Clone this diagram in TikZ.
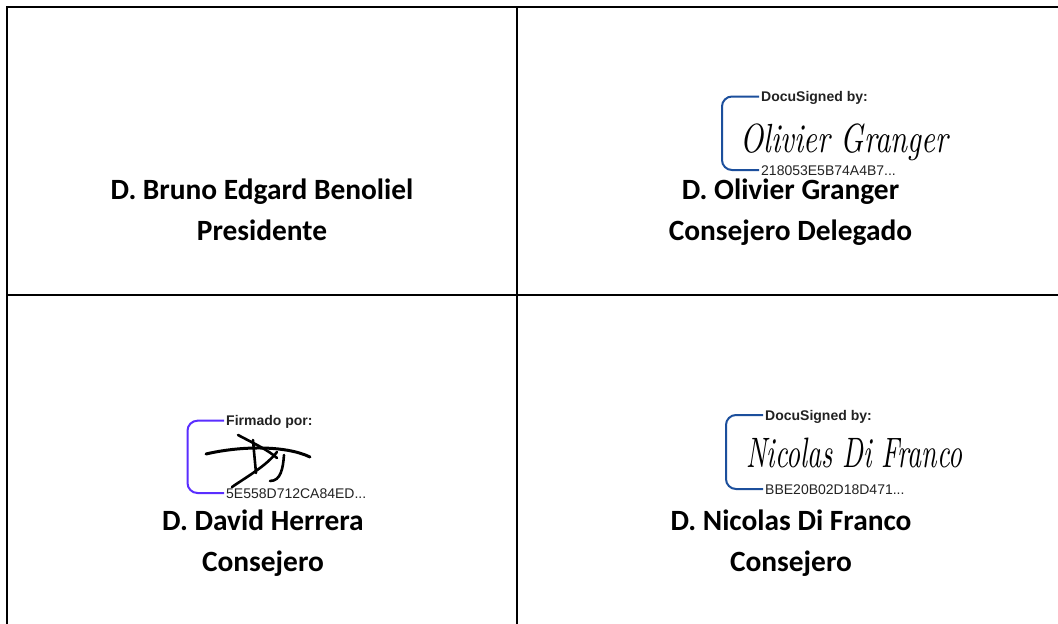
\documentclass[tikz,border=0pt]{standalone}
\usepackage{fontspec}
\setmainfont{Carlito}
\newfontfamily\arialfont{Liberation Sans}
\newcommand{\sigfont}{\fontfamily{lmr}\fontseries{m}\fontshape{it}\selectfont}
\definecolor{dsblue}{HTML}{1C4F9C}
\definecolor{fmviolet}{HTML}{5A2EFF}
\definecolor{smalltext}{HTML}{222222}
\tikzset{
  grid line/.style={line width=2pt, black},
  name text/.style={anchor=base, inner sep=0pt, font=\fontsize{29.4}{35}\selectfont\bfseries},
  bracket/.style={line width=2pt, rounded corners=10pt},
  tag bold/.style={anchor=base west, inner sep=0pt, text=smalltext, font=\arialfont\fontsize{14}{16}\selectfont\bfseries},
  tag plain/.style={anchor=base west, inner sep=0pt, text=smalltext, font=\arialfont\fontsize{14}{16}\selectfont},
  sign/.style={anchor=base west, inner sep=0pt},
  scribble/.style={line width=2.6pt, line cap=round, black}
}
\begin{document}
\begin{tikzpicture}[x=1pt,y=-1pt]
\fill[white] (0,0) rectangle (1058,624);
\useasboundingbox (0,0) rectangle (1058,624);
% table grid
\coordinate (tl) at (7,7);
\coordinate (tr) at (1058,7);
\coordinate (bl) at (7,624);
\coordinate (mt) at (517,7);
\coordinate (mb) at (517,624);
\coordinate (ml) at (7,294.5);
\coordinate (mr) at (1058,294.5);
\draw[grid line] (tr) -- (tl) -- (bl);
\draw[grid line] (mt) -- (mb);
\draw[grid line] (ml) -- (mr);
% names
\node[name text] (n1a) at (262,199.5) {D. Bruno Edgard Benoliel};
\node[name text] (n1b) at (262,240.5) {Presidente};
\node[name text] (n2a) at (790.5,199.5) {D. Olivier Granger};
\node[name text] (n2b) at (790.5,240.5) {Consejero Delegado};
\node[name text] (n3a) at (263,530.5) {D. David Herrera};
\node[name text] (n3b) at (263,571.5) {Consejero};
\node[name text] (n4a) at (791,530.5) {D. Nicolas Di Franco};
\node[name text] (n4b) at (791,571.5) {Consejero};
% signature 1 (Olivier Granger)
\draw[bracket, dsblue] (759,96.5) -- (722,96.5) -- (722,170) -- (759,170);
\node[tag bold] (s1t) at (761,101.5) {DocuSigned by:};
\node[tag plain] (s1b) at (761,175) {218053E5B74A4B7...};
\node[sign] (s1s) at (740,152) {\scalebox{1}[1.35]{\resizebox{208pt}{!}{\sigfont Olivier Granger}}};
% signature 3 (Nicolas Di Franco)
\draw[bracket, dsblue] (763,415) -- (726,415) -- (726,489) -- (763,489);
\node[tag bold] (s3t) at (765,420) {DocuSigned by:};
\node[tag plain] (s3b) at (765,494) {BBE20B02D18D471...};
\node[sign] (s3s) at (746,467) {\scalebox{1}[1.55]{\resizebox{216pt}{!}{\sigfont Nicolas Di Franco}}};
% signature 2 (David Herrera)
\draw[bracket, fmviolet] (224,420.7) -- (187.5,420.7) -- (187.5,493) -- (224,493);
\node[tag bold] (s2t) at (226,425.7) {Firmado por:};
\node[tag plain] (s2b) at (226,498) {5E558D712CA84ED...};
\draw[scribble, line width=3pt] (206,454) .. controls (240,446) and (285,445) .. (310,457);
\draw[scribble] (238,435) .. controls (255,444) and (268,450) .. (277,458);
\draw[scribble] (253,440) .. controls (254,452) and (255,462) .. (256,473);
\draw[scribble] (232,487) .. controls (248,476) and (266,466) .. (277,452);
\draw[scribble] (284,455) .. controls (283,468) and (281,481) .. (270,481);
\end{tikzpicture}
\end{document}
